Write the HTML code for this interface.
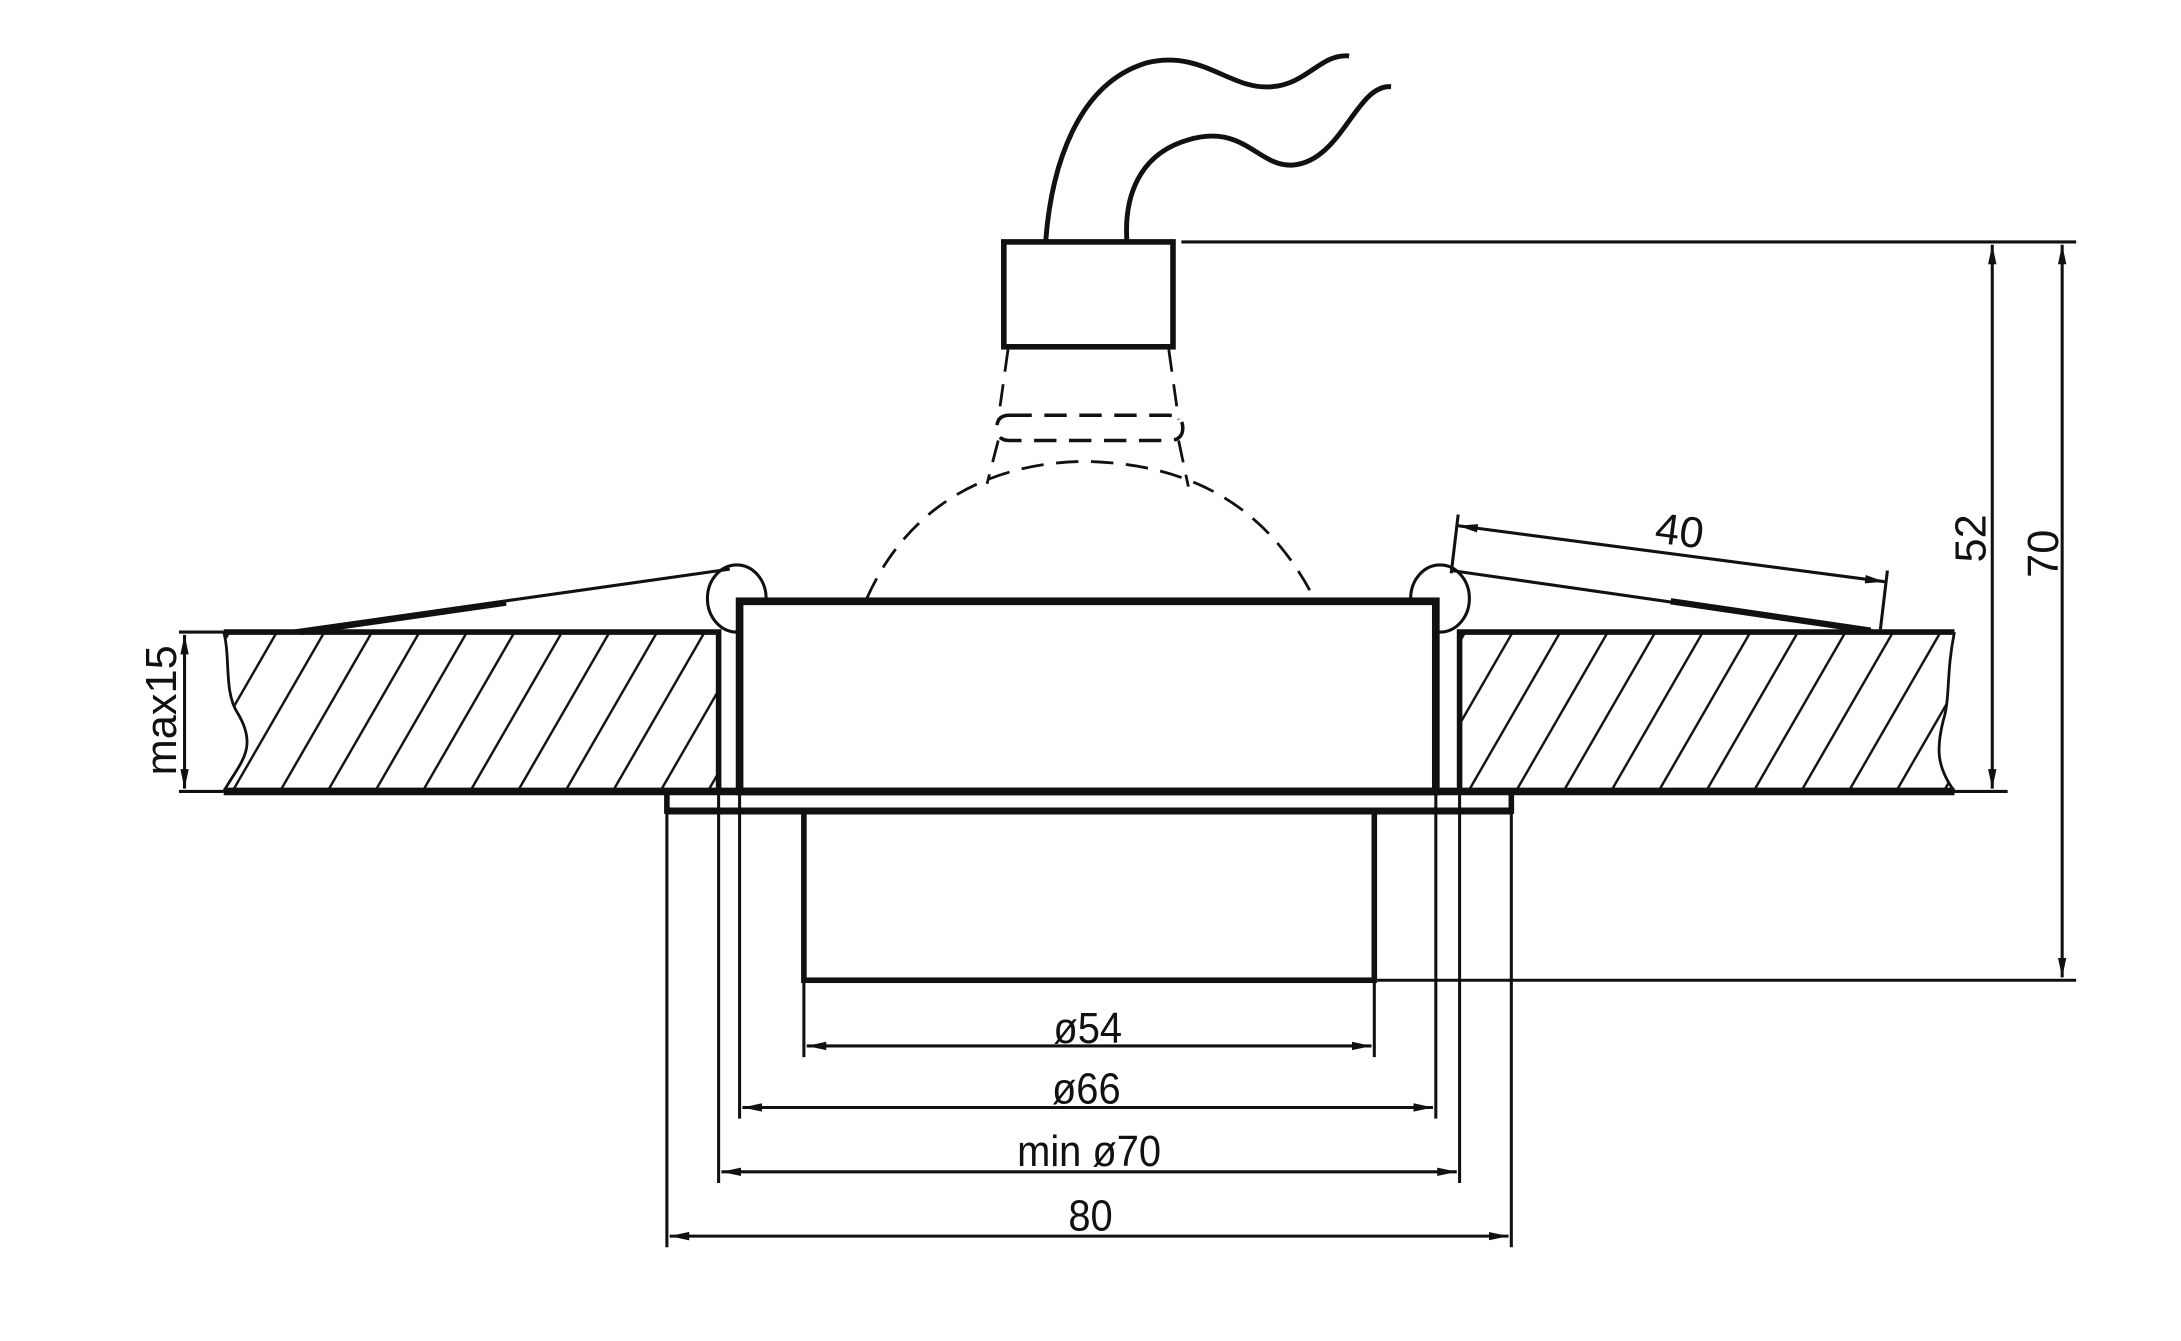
<!DOCTYPE html>
<html><head><meta charset="utf-8"><style>
html,body{margin:0;padding:0;background:#fff;}
svg{display:block;}
text{font-family:"Liberation Sans",sans-serif;fill:#111;}
</style></head><body>
<svg width="2181" height="1341" viewBox="0 0 1560 959" preserveAspectRatio="none" xmlns="http://www.w3.org/2000/svg">
<defs>
<pattern id="h" patternUnits="userSpaceOnUse" width="34" height="200" patternTransform="skewX(-30)">
<line x1="17" y1="0" x2="17" y2="200" stroke="#111" stroke-width="2"/>
</pattern>
<marker id="a" markerWidth="14" markerHeight="8" refX="14" refY="4" orient="auto-start-reverse" markerUnits="userSpaceOnUse">
<path d="M0,1 L14,4 L0,7 Z" fill="#111"/>
</marker>
</defs>
<g stroke="#111" fill="none">
<path d="M748,172 C752,120 770,60 820,45 C860,35 880,65 910,62 C935,60 945,38 965,40" stroke-width="3.5"/>
<path d="M806,172 C804,140 815,110 850,100 C890,88 900,120 925,118 C960,115 970,60 995,62" stroke-width="3.5"/>
<rect x="718" y="173" width="121" height="75" stroke-width="4"/>
<g stroke-width="2" stroke-dasharray="16,9">
<path d="M721,250 L714,300"/><path d="M836,250 L843,300"/>
<path d="M722,297 L836,297 Q846,297 846,306 Q846,315 836,315 L722,315 Q713,315 713,306 Q713,297 722,297" stroke-width="2.5"/>
<path d="M714,315 L706,346"/><path d="M843,315 L850,348"/>
<path d="M620,428 C650,360 710,330 778,330 C850,332 905,360 940,428"/>
</g>
<ellipse cx="527" cy="428" rx="21" ry="24" stroke-width="2.2"/>
<ellipse cx="1030" cy="428" rx="21" ry="24" stroke-width="2.2"/>
<line x1="522" y1="407" x2="205" y2="452" stroke-width="2.2"/>
<line x1="215" y1="452" x2="362" y2="431" stroke-width="4.5"/>
<line x1="1038" y1="408" x2="1345" y2="452" stroke-width="2.2"/>
<line x1="1195" y1="430" x2="1338" y2="451" stroke-width="4.5"/>
<path d="M160,452 L514,452 L514,566 L160,566 C172,545 185,535 170,510 C160,495 165,470 160,452 Z" fill="url(#h)" stroke="none"/>
<path d="M1044,452 L1398,452 C1392,480 1395,500 1390,515 C1385,535 1385,548 1398,566 L1044,566 Z" fill="url(#h)" stroke="none"/>
<path d="M160,452 L514,452 L514,566" stroke-width="4"/>
<path d="M160,452 C165,470 160,495 170,510 C185,535 172,545 160,566" stroke-width="2"/>
<path d="M1398,452 L1044,452 L1044,566" stroke-width="4"/>
<path d="M1398,452 C1392,480 1395,500 1390,515 C1385,535 1385,548 1398,566" stroke-width="2"/>
<rect x="529" y="430" width="498" height="136" stroke-width="5.5" fill="#fff"/>
<line x1="160" y1="566" x2="1398" y2="566" stroke-width="5.5"/>
<path d="M477,566 L477,580 L1081,580 L1081,566" stroke-width="4"/>
<line x1="477" y1="580" x2="1081" y2="580" stroke-width="5"/>
<rect x="575" y="580" width="408" height="121" stroke-width="4"/>
<g stroke-width="2.2">
<line x1="477" y1="580" x2="477" y2="892"/>
<line x1="1081" y1="580" x2="1081" y2="892"/>
<line x1="514" y1="566" x2="514" y2="846"/>
<line x1="1044" y1="566" x2="1044" y2="846"/>
<line x1="529" y1="566" x2="529" y2="800"/>
<line x1="1027" y1="566" x2="1027" y2="800"/>
<line x1="575" y1="701" x2="575" y2="756"/>
<line x1="983" y1="701" x2="983" y2="756"/>
<line x1="845" y1="173" x2="1485" y2="173"/>
<line x1="985" y1="701" x2="1485" y2="701"/>
<line x1="1398" y1="566" x2="1436" y2="566"/>
<line x1="128" y1="452" x2="160" y2="452"/>
<line x1="128" y1="566" x2="160" y2="566"/>
<line x1="1043" y1="368" x2="1038" y2="410"/>
<line x1="1350" y1="408" x2="1345" y2="450"/>
</g>
<g stroke-width="2.2" marker-start="url(#a)" marker-end="url(#a)">
<line x1="577" y1="748" x2="981" y2="748"/>
<line x1="531" y1="792" x2="1025" y2="792"/>
<line x1="516" y1="838" x2="1042" y2="838"/>
<line x1="479" y1="884" x2="1079" y2="884"/>
<line x1="1425" y1="175" x2="1425" y2="564"/>
<line x1="1475" y1="175" x2="1475" y2="699"/>
<line x1="132" y1="454" x2="132" y2="564"/>
<line x1="1043" y1="376" x2="1348" y2="416"/>
</g>
</g>
<g font-size="31">
<text x="778" y="746" text-anchor="middle" transform="translate(778,0) scale(0.92,1) translate(-778,0)">ø54</text>
<text x="777" y="789" text-anchor="middle" transform="translate(777,0) scale(0.92,1) translate(-777,0)">ø66</text>
<text x="779" y="834" text-anchor="middle" transform="translate(779,0) scale(0.92,1) translate(-779,0)">min  ø70</text>
<text x="780" y="880" text-anchor="middle" transform="translate(780,0) scale(0.92,1) translate(-780,0)">80</text>
<text transform="translate(1200,390) rotate(7.5)" text-anchor="middle">40</text>
<text transform="translate(1420,385) rotate(-90)" text-anchor="middle">52</text>
<text transform="translate(1472,396) rotate(-90)" text-anchor="middle">70</text>
<text transform="translate(126,508) rotate(-90)" text-anchor="middle">max15</text>
</g>
</svg>
</body></html>
